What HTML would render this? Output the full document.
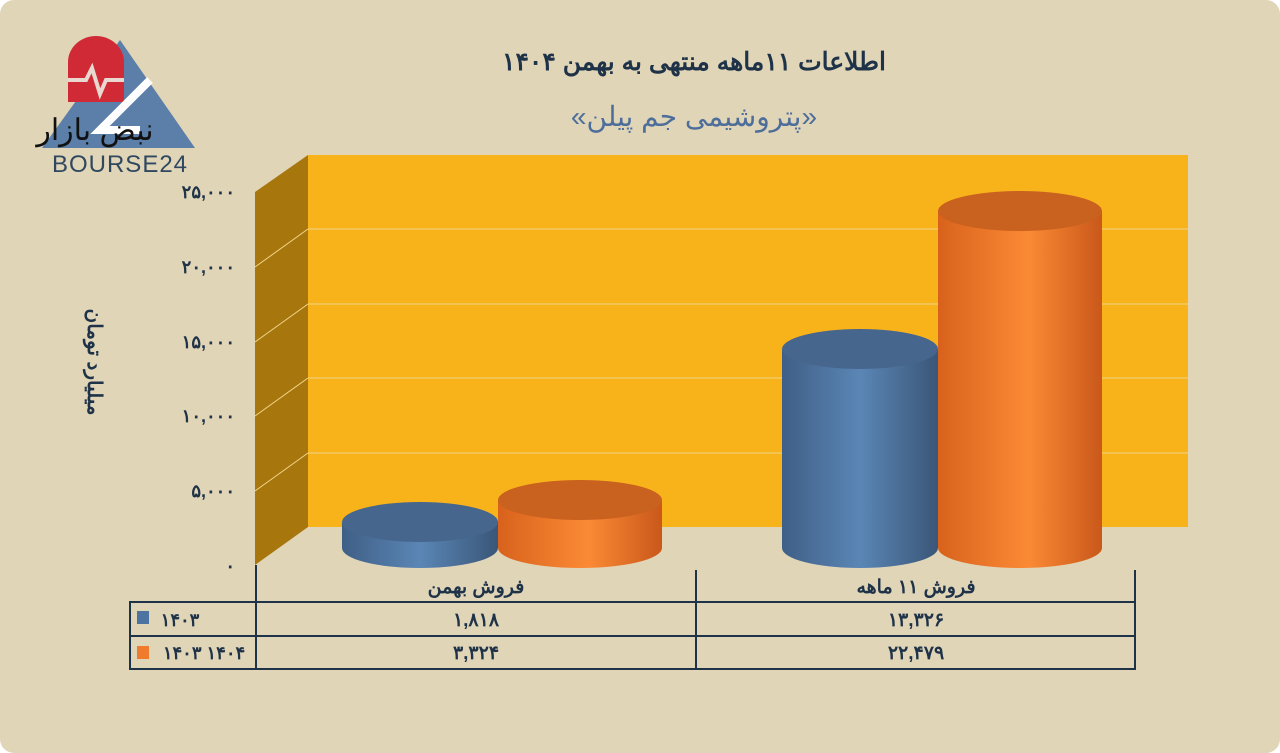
<!DOCTYPE html>
<html><head><meta charset="utf-8"><style>
body{margin:0;background:#fff}
.c{width:1280px;height:753px;background:#e1d5b8;border-radius:14px;overflow:hidden;position:relative}
svg{position:absolute;left:0;top:0}
text{font-family:"Liberation Sans","Noto Sans CJK SC",sans-serif}
</style></head><body><div class="c">
<svg width="1280" height="753" viewBox="0 0 1280 753">
<defs>
<linearGradient id="bl" x1="0" x2="1"><stop offset="0" stop-color="#3f5f86"/><stop offset=".5" stop-color="#5a86b5"/><stop offset="1" stop-color="#3a5678"/></linearGradient>
<linearGradient id="or" x1="0" x2="1"><stop offset="0" stop-color="#d8621c"/><stop offset=".55" stop-color="#fb8a35"/><stop offset="1" stop-color="#c9581a"/></linearGradient>
</defs>
<polygon points="120,40 195,148 42,148" fill="#5b7fa8"/>
<path d="M68,102 V62 a28,26 0 0 1 56,0 V102 Z" fill="#d02a36"/>
<polyline points="68,80 86,80 92,68 100,94 106,80 124,80" fill="none" stroke="#e8d8d0" stroke-width="4"/>
<polyline points="150,80 100,130 140,130" fill="none" stroke="#fff" stroke-width="8"/>
<text x="95" y="140" font-size="30" text-anchor="middle" fill="#111">نبض بازار</text>
<text x="120" y="172" font-size="24" text-anchor="middle" fill="#2f4860" letter-spacing="1">BOURSE24</text>
<text x="694" y="70" font-size="25" font-weight="bold" text-anchor="middle" fill="#1f3348">اطلاعات ۱۱ماهه منتهی به بهمن ۱۴۰۴</text>
<text x="694" y="126" font-size="28" text-anchor="middle" fill="#4d6e9a">«پتروشیمی جم پیلن»</text>
<rect x="308" y="155" width="880" height="372" fill="#f8b31b"/>
<polygon points="255,192 308,155 308,527 255,565" fill="#a7760d"/>
<g stroke="#f0d68a" stroke-width="1">
<line x1="308" y1="229" x2="1188" y2="229"/><line x1="308" y1="304" x2="1188" y2="304"/>
<line x1="308" y1="378" x2="1188" y2="378"/><line x1="308" y1="453" x2="1188" y2="453"/>
<line x1="255" y1="267" x2="308" y2="229"/><line x1="255" y1="342" x2="308" y2="304"/>
<line x1="255" y1="416" x2="308" y2="378"/><line x1="255" y1="491" x2="308" y2="453"/>
</g>
<g font-size="18" font-weight="bold" fill="#1f3348" text-anchor="end">
<text x="235" y="198">۲۵,۰۰۰</text><text x="235" y="273">۲۰,۰۰۰</text><text x="235" y="348">۱۵,۰۰۰</text>
<text x="235" y="422">۱۰,۰۰۰</text><text x="235" y="497">۵,۰۰۰</text><text x="235" y="572">۰</text>
</g>
<text transform="translate(88,362) rotate(90)" font-size="20" font-weight="bold" text-anchor="middle" fill="#1f3348">میلیارد تومان</text>
<path d="M342,522 V548 A78,20 0 0 0 498,548 V522 Z" fill="url(#bl)"/><ellipse cx="420" cy="522" rx="78" ry="20" fill="#46668e"/>
<path d="M498,500 V548 A82,20 0 0 0 662,548 V500 Z" fill="url(#or)"/><ellipse cx="580" cy="500" rx="82" ry="20" fill="#c9611f"/>
<path d="M782,349 V548 A78,20 0 0 0 938,548 V349 Z" fill="url(#bl)"/><ellipse cx="860" cy="349" rx="78" ry="20" fill="#46668e"/>
<path d="M938,211 V548 A82,20 0 0 0 1102,548 V211 Z" fill="url(#or)"/><ellipse cx="1020" cy="211" rx="82" ry="20" fill="#c9611f"/>
<g stroke="#1f3348" stroke-width="2" fill="none">
<line x1="256" y1="565" x2="256" y2="669"/><line x1="696" y1="570" x2="696" y2="669"/><line x1="1135" y1="570" x2="1135" y2="669"/>
<rect x="130" y="602" width="1005" height="67"/><line x1="130" y1="636" x2="1135" y2="636"/>
</g>
<g font-size="19" font-weight="bold" fill="#1f3348" text-anchor="middle">
<text x="476" y="593">فروش بهمن</text><text x="916" y="593">فروش ۱۱ ماهه</text>
<text x="476" y="626">۱,۸۱۸</text><text x="916" y="626">۱۳,۳۲۶</text>
<text x="476" y="659">۳,۳۲۴</text><text x="916" y="659">۲۲,۴۷۹</text>
<text x="180" y="626" font-size="18">۱۴۰۳</text><text x="204" y="659" font-size="18">۱۴۰۳ ۱۴۰۴</text>
</g>
<rect x="137" y="611" width="12" height="13" fill="#4d74a1"/>
<rect x="137" y="646" width="12" height="13" fill="#f07b2c"/>
</svg></div></body></html>
